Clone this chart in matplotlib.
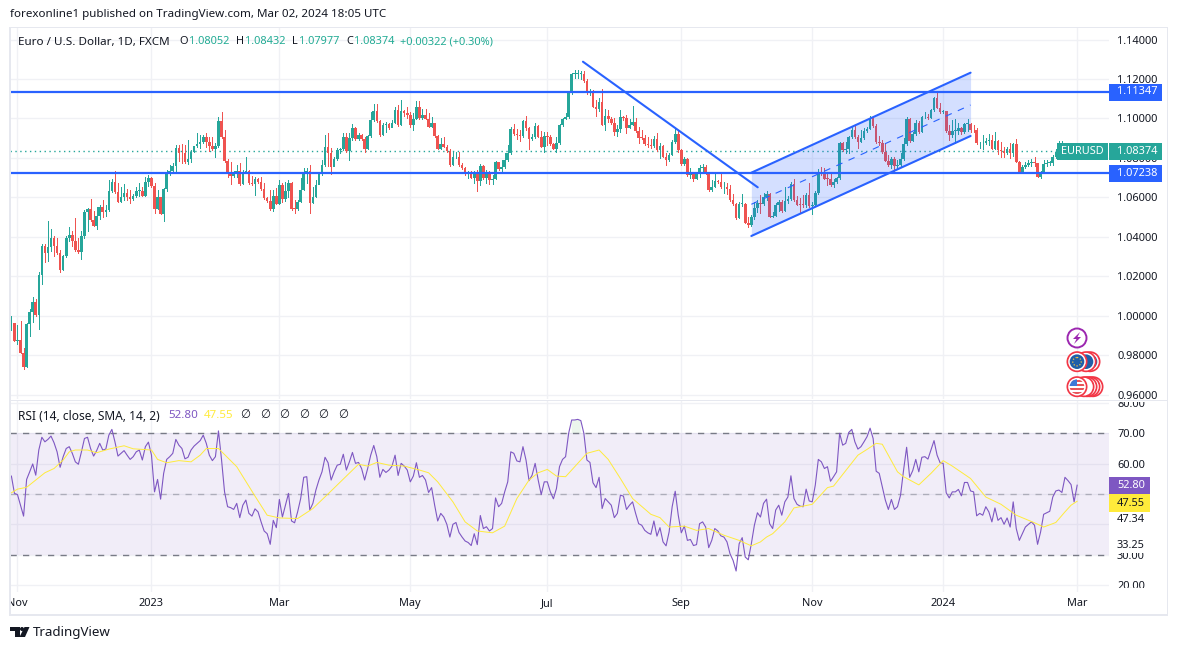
import matplotlib
matplotlib.use("Agg")
import matplotlib.pyplot as plt
from matplotlib.patches import Rectangle, Circle, Polygon

plt.rcParams["font.family"] = ["Noto Sans", "DejaVu Sans"]

# daily closes, one per bar
closes = [
    0.9961, 0.9874, 0.9877, 0.9813, 0.9742, 0.9958, 1.0019, 1.0069, 1.0003, 1.0206,
    1.0354, 1.0320, 1.0347, 1.0394, 1.0354, 1.0320, 1.0234, 1.0303, 1.0394, 1.0409,
    1.0381, 1.0333, 1.0323, 1.0404, 1.0526, 1.0541, 1.0486, 1.0455, 1.0506, 1.0551,
    1.0526, 1.0536, 1.0631, 1.0680, 1.0626, 1.0578, 1.0604, 1.0621, 1.0600, 1.0590,
    1.0607, 1.0632, 1.0634, 1.0609, 1.0680, 1.0697, 1.0658, 1.0540, 1.0602, 1.0516,
    1.0643, 1.0719, 1.0734, 1.0761, 1.0849, 1.0827, 1.0823, 1.0781, 1.0793, 1.0832,
    1.0861, 1.0871, 1.0883, 1.0908, 1.0883, 1.0862, 1.0844, 1.0861, 1.0987, 1.0905,
    1.0786, 1.0719, 1.0709, 1.0731, 1.0736, 1.0666, 1.0725, 1.0732, 1.0671, 1.0666,
    1.0692, 1.0680, 1.0641, 1.0597, 1.0583, 1.0540, 1.0609, 1.0566, 1.0663, 1.0590,
    1.0634, 1.0675, 1.0543, 1.0540, 1.0578, 1.0638, 1.0731, 1.0736, 1.0573, 1.0604,
    1.0663, 1.0722, 1.0764, 1.0857, 1.0823, 1.0756, 1.0793, 1.0840, 1.0845, 1.0905,
    1.0837, 1.0900, 1.0950, 1.0896, 1.0916, 1.0896, 1.0845, 1.0911, 1.0992, 1.1040,
    1.0989, 1.0916, 1.0967, 1.0972, 1.0950, 1.0979, 1.1043, 1.0967, 1.1038, 1.1026,
    1.1017, 1.0967, 1.0997, 1.1056, 1.1000, 1.1017, 1.0997, 1.0958, 1.0979, 1.0911,
    1.0847, 1.0870, 1.0857, 1.0835, 1.0764, 1.0803, 1.0806, 1.0764, 1.0747, 1.0718,
    1.0718, 1.0698, 1.0730, 1.0683, 1.0760, 1.0696, 1.0718, 1.0688, 1.0695, 1.0781,
    1.0742, 1.0752, 1.0789, 1.0826, 1.0945, 1.0921, 1.0916, 1.0911, 1.0989, 1.0950,
    1.0894, 1.0904, 1.0962, 1.0908, 1.0857, 1.0911, 1.0908, 1.0870, 1.0847, 1.0874,
    1.0965, 1.0997, 1.1006, 1.1131, 1.1225, 1.1225, 1.1225, 1.1225, 1.1191, 1.1127,
    1.1136, 1.1060, 1.1046, 1.1085, 1.0968, 1.1014, 1.0995, 1.0979, 1.0931, 1.0948,
    1.1006, 1.1002, 1.0951, 1.0968, 1.0982, 1.0936, 1.0902, 1.0901, 1.0870, 1.0865,
    1.0862, 1.0896, 1.0840, 1.0858, 1.0806, 1.0789, 1.0816, 1.0880, 1.0921, 1.0840,
    1.0769, 1.0794, 1.0713, 1.0718, 1.0691, 1.0718, 1.0747, 1.0752, 1.0725, 1.0637,
    1.0654, 1.0684, 1.0678, 1.0651, 1.0651, 1.0640, 1.0586, 1.0566, 1.0493, 1.0566,
    1.0566, 1.0471, 1.0460, 1.0503, 1.0545, 1.0574, 1.0567, 1.0601, 1.0617, 1.0503,
    1.0506, 1.0562, 1.0575, 1.0533, 1.0582, 1.0594, 1.0668, 1.0587, 1.0563, 1.0562,
    1.0560, 1.0612, 1.0557, 1.0560, 1.0621, 1.0722, 1.0719, 1.0695, 1.0692, 1.0663,
    1.0680, 1.0697, 1.0878, 1.0841, 1.0847, 1.0905, 1.0942, 1.0905, 1.0883, 1.0901,
    1.0935, 1.0949, 1.1001, 1.0962, 1.0881, 1.0874, 1.0832, 1.0787, 1.0763, 1.0797,
    1.0760, 1.0763, 1.0793, 1.0871, 1.0996, 1.0888, 1.0922, 1.0979, 1.0929, 1.1006,
    1.1010, 1.1003, 1.1043, 1.1104, 1.1055, 1.1035, 1.1037, 1.0935, 1.0915, 1.0939,
    1.0939, 1.0952, 1.0932, 1.0971, 1.0971, 1.0942, 1.0940, 1.0874, 1.0874, 1.0878,
    1.0886, 1.0891, 1.0847, 1.0886, 1.0841, 1.0837, 1.0827, 1.0844, 1.0827, 1.0871,
    1.0781, 1.0731, 1.0756, 1.0766, 1.0773, 1.0776, 1.0773, 1.0705, 1.0727, 1.0768,
    1.0773, 1.0775, 1.0803, 1.0829, 1.0850, 1.0860, 1.0820, 1.0850, 1.0845, 1.0805, 1.0837,
]

highs = [
    0.9999, 0.9962, 0.9952, 0.9974, 0.9837, 0.9965, 1.0034, 1.0095, 1.0085, 1.0222,
    1.0364, 1.0364, 1.0481, 1.0440, 1.0404, 1.0394, 1.0332, 1.0308, 1.0404, 1.0450,
    1.0430, 1.0496, 1.0394, 1.0430, 1.0535, 1.0546, 1.0592, 1.0531, 1.0552, 1.0562,
    1.0587, 1.0562, 1.0688, 1.0692, 1.0734, 1.0671, 1.0655, 1.0666, 1.0644, 1.0638,
    1.0617, 1.0655, 1.0671, 1.0655, 1.0705, 1.0714, 1.0705, 1.0675, 1.0638, 1.0604,
    1.0650, 1.0739, 1.0764, 1.0773, 1.0866, 1.0866, 1.0869, 1.0866, 1.0891, 1.0840,
    1.0862, 1.0925, 1.0917, 1.0917, 1.0925, 1.0908, 1.0908, 1.0874, 1.1006, 1.1033,
    1.0942, 1.0793, 1.0778, 1.0736, 1.0764, 1.0773, 1.0739, 1.0803, 1.0739, 1.0709,
    1.0702, 1.0700, 1.0705, 1.0671, 1.0604, 1.0638, 1.0638, 1.0646, 1.0688, 1.0671,
    1.0680, 1.0688, 1.0680, 1.0587, 1.0587, 1.0697, 1.0748, 1.0748, 1.0764, 1.0655,
    1.0688, 1.0731, 1.0790, 1.0915, 1.0925, 1.0849, 1.0807, 1.0849, 1.0849, 1.0925,
    1.0925, 1.0925, 1.0972, 1.0955, 1.0928, 1.0922, 1.0905, 1.0917, 1.1035, 1.1074,
    1.1074, 1.0993, 1.0979, 1.0984, 1.0979, 1.0993, 1.1057, 1.1069, 1.1093, 1.1043,
    1.1060, 1.1034, 1.1026, 1.1088, 1.1088, 1.1046, 1.1046, 1.1026, 1.1006, 1.0979,
    1.0918, 1.0899, 1.0904, 1.0865, 1.0843, 1.0832, 1.0832, 1.0832, 1.0772, 1.0756,
    1.0735, 1.0735, 1.0735, 1.0739, 1.0769, 1.0764, 1.0739, 1.0735, 1.0713, 1.0784,
    1.0781, 1.0789, 1.0823, 1.0865, 1.0955, 1.0972, 1.0945, 1.0941, 1.0992, 1.1012,
    1.0958, 1.0921, 1.0979, 1.0967, 1.0938, 1.0933, 1.0933, 1.0916, 1.0877, 1.0904,
    1.0972, 1.1001, 1.1026, 1.1136, 1.1229, 1.1246, 1.1246, 1.1242, 1.1242, 1.1198,
    1.1148, 1.1144, 1.1093, 1.1102, 1.1148, 1.1046, 1.1043, 1.1009, 1.1001, 1.0967,
    1.1043, 1.1012, 1.1017, 1.0995, 1.1063, 1.1001, 1.0955, 1.0941, 1.0916, 1.0904,
    1.0894, 1.0911, 1.0928, 1.0874, 1.0865, 1.0823, 1.0823, 1.0891, 1.0950, 1.0941,
    1.0843, 1.0803, 1.0798, 1.0747, 1.0730, 1.0725, 1.0764, 1.0769, 1.0762, 1.0730,
    1.0688, 1.0730, 1.0688, 1.0730, 1.0680, 1.0671, 1.0663, 1.0617, 1.0573, 1.0575,
    1.0617, 1.0570, 1.0502, 1.0511, 1.0579, 1.0587, 1.0613, 1.0624, 1.0630, 1.0621,
    1.0528, 1.0574, 1.0587, 1.0587, 1.0655, 1.0607, 1.0680, 1.0692, 1.0607, 1.0596,
    1.0613, 1.0621, 1.0672, 1.0579, 1.0630, 1.0743, 1.0753, 1.0748, 1.0722, 1.0722,
    1.0692, 1.0705, 1.0883, 1.0883, 1.0883, 1.0912, 1.0962, 1.0962, 1.0917, 1.0942,
    1.0951, 1.0959, 1.1013, 1.1013, 1.0973, 1.0912, 1.0891, 1.0875, 1.0815, 1.0804,
    1.0804, 1.0790, 1.0824, 1.0900, 1.1010, 1.1001, 1.0934, 1.0993, 1.0989, 1.1013,
    1.1035, 1.1021, 1.1047, 1.1108, 1.1136, 1.1077, 1.1043, 1.1040, 1.0967, 1.0993,
    1.0996, 1.0976, 1.0959, 1.0976, 1.0996, 1.0979, 1.0967, 1.0951, 1.0883, 1.0917,
    1.0900, 1.0922, 1.0917, 1.0929, 1.0891, 1.0883, 1.0854, 1.0854, 1.0875, 1.0878,
    1.0895, 1.0785, 1.0765, 1.0777, 1.0790, 1.0797, 1.0804, 1.0773, 1.0736, 1.0790,
    1.0790, 1.0782, 1.0815, 1.0844, 1.0888, 1.0885, 1.0865, 1.0865, 1.0865, 1.0855, 1.0843,
]

lows = [
    0.9928, 0.9874, 0.9854, 0.9813, 0.9732, 0.9742, 0.9899, 0.9970, 0.9996, 0.9933,
    1.0163, 1.0274, 1.0279, 1.0330, 1.0305, 1.0313, 1.0224, 1.0234, 1.0300, 1.0381,
    1.0354, 1.0330, 1.0318, 1.0288, 1.0394, 1.0430, 1.0481, 1.0455, 1.0440, 1.0491,
    1.0501, 1.0506, 1.0531, 1.0629, 1.0621, 1.0577, 1.0579, 1.0587, 1.0587, 1.0573,
    1.0587, 1.0604, 1.0607, 1.0607, 1.0607, 1.0658, 1.0655, 1.0519, 1.0540, 1.0516,
    1.0482, 1.0633, 1.0714, 1.0727, 1.0727, 1.0783, 1.0776, 1.0773, 1.0770, 1.0781,
    1.0832, 1.0857, 1.0849, 1.0874, 1.0857, 1.0837, 1.0840, 1.0803, 1.0857, 1.0900,
    1.0781, 1.0705, 1.0668, 1.0705, 1.0705, 1.0663, 1.0666, 1.0722, 1.0666, 1.0661,
    1.0612, 1.0671, 1.0638, 1.0594, 1.0579, 1.0536, 1.0533, 1.0567, 1.0567, 1.0579,
    1.0584, 1.0604, 1.0536, 1.0523, 1.0536, 1.0575, 1.0638, 1.0675, 1.0519, 1.0573,
    1.0604, 1.0675, 1.0714, 1.0761, 1.0759, 1.0719, 1.0764, 1.0790, 1.0827, 1.0840,
    1.0832, 1.0790, 1.0891, 1.0891, 1.0891, 1.0891, 1.0832, 1.0846, 1.0908, 1.0989,
    1.0984, 1.0911, 1.0917, 1.0933, 1.0945, 1.0962, 1.0976, 1.0962, 1.0967, 1.1012,
    1.1001, 1.0955, 1.0941, 1.0997, 1.0997, 1.0997, 1.0995, 1.0955, 1.0955, 1.0904,
    1.0843, 1.0847, 1.0854, 1.0832, 1.0759, 1.0764, 1.0798, 1.0759, 1.0744, 1.0713,
    1.0696, 1.0696, 1.0674, 1.0632, 1.0663, 1.0691, 1.0674, 1.0668, 1.0668, 1.0693,
    1.0739, 1.0735, 1.0747, 1.0786, 1.0820, 1.0918, 1.0894, 1.0887, 1.0908, 1.0941,
    1.0843, 1.0891, 1.0899, 1.0904, 1.0854, 1.0832, 1.0865, 1.0867, 1.0843, 1.0832,
    1.0870, 1.0962, 1.0995, 1.1001, 1.1124, 1.1203, 1.1205, 1.1202, 1.1186, 1.1122,
    1.1119, 1.1056, 1.1012, 1.1039, 1.0967, 1.0941, 1.0984, 1.0972, 1.0916, 1.0911,
    1.0931, 1.0992, 1.0924, 1.0950, 1.0967, 1.0933, 1.0877, 1.0894, 1.0867, 1.0857,
    1.0848, 1.0857, 1.0837, 1.0798, 1.0803, 1.0764, 1.0786, 1.0813, 1.0877, 1.0832,
    1.0764, 1.0764, 1.0708, 1.0696, 1.0685, 1.0691, 1.0705, 1.0722, 1.0718, 1.0634,
    1.0634, 1.0651, 1.0671, 1.0647, 1.0620, 1.0617, 1.0583, 1.0563, 1.0489, 1.0494,
    1.0558, 1.0468, 1.0448, 1.0457, 1.0489, 1.0528, 1.0523, 1.0562, 1.0587, 1.0499,
    1.0499, 1.0506, 1.0533, 1.0526, 1.0530, 1.0570, 1.0587, 1.0584, 1.0560, 1.0520,
    1.0553, 1.0553, 1.0553, 1.0516, 1.0560, 1.0618, 1.0714, 1.0692, 1.0663, 1.0658,
    1.0655, 1.0672, 1.0695, 1.0837, 1.0827, 1.0827, 1.0900, 1.0900, 1.0849, 1.0883,
    1.0898, 1.0932, 1.0945, 1.0959, 1.0878, 1.0868, 1.0827, 1.0783, 1.0760, 1.0748,
    1.0726, 1.0748, 1.0756, 1.0790, 1.0864, 1.0883, 1.0885, 1.0915, 1.0925, 1.0929,
    1.1001, 1.0999, 1.1001, 1.1037, 1.1052, 1.1030, 1.1030, 1.0932, 1.0891, 1.0908,
    1.0874, 1.0922, 1.0922, 1.0925, 1.0937, 1.0934, 1.0932, 1.0871, 1.0849, 1.0844,
    1.0871, 1.0866, 1.0844, 1.0844, 1.0820, 1.0807, 1.0807, 1.0820, 1.0798, 1.0810,
    1.0780, 1.0722, 1.0726, 1.0748, 1.0760, 1.0760, 1.0760, 1.0702, 1.0697, 1.0722,
    1.0761, 1.0763, 1.0766, 1.0799, 1.0825, 1.0840, 1.0795, 1.0815, 1.0825, 1.0795, 1.0798,
]

rsi = [
    55.9, 50.2, 49.8, 46.3, 42.7, 54.8, 57.3, 59.9, 56.2, 64.5,
    68.7, 67.2, 68.0, 69.1, 66.9, 63.9, 58.8, 62.3, 65.0, 65.6,
    63.4, 60.6, 59.8, 63.9, 68.3, 68.7, 65.0, 62.5, 64.3, 66.7,
    64.5, 64.8, 69.4, 71.3, 67.2, 62.5, 63.4, 64.3, 62.8, 61.4,
    62.3, 63.9, 64.5, 61.2, 65.6, 67.1, 62.8, 50.7, 54.8, 48.3,
    56.8, 61.4, 62.3, 63.4, 68.0, 66.1, 65.0, 61.6, 62.1, 64.5,
    65.8, 66.7, 67.6, 69.4, 66.7, 62.8, 61.0, 62.3, 70.8, 61.4,
    50.7, 45.8, 45.5, 44.9, 46.9, 42.2, 46.3, 48.0, 43.6, 42.7,
    45.1, 44.1, 40.8, 37.8, 36.9, 33.4, 41.3, 38.9, 48.2, 42.4,
    46.3, 50.2, 41.1, 40.5, 44.1, 48.5, 55.5, 55.7, 44.7, 46.9,
    51.3, 54.6, 57.3, 62.1, 60.3, 54.6, 57.3, 59.5, 59.8, 63.1,
    57.9, 60.6, 63.7, 60.1, 60.4, 58.4, 54.6, 58.4, 62.8, 66.0,
    62.3, 55.5, 58.1, 57.1, 57.9, 59.2, 62.8, 56.1, 60.1, 59.2,
    57.9, 54.0, 55.9, 60.3, 55.5, 56.1, 54.6, 50.5, 52.1, 46.3,
    41.1, 43.6, 42.4, 40.0, 35.8, 40.0, 40.6, 37.3, 35.8, 34.5,
    34.0, 33.0, 36.9, 33.3, 42.9, 38.6, 39.2, 37.8, 38.6, 48.7,
    45.8, 46.9, 50.7, 54.0, 63.9, 63.4, 60.9, 60.6, 65.6, 61.2,
    54.4, 56.2, 60.1, 54.6, 49.8, 54.0, 54.0, 50.7, 48.4, 51.8,
    59.0, 61.4, 62.3, 70.0, 74.4, 74.4, 74.6, 74.2, 70.0, 61.2,
    60.4, 53.7, 52.1, 55.5, 45.2, 48.5, 47.4, 46.3, 42.2, 43.6,
    49.6, 49.3, 44.9, 46.3, 47.4, 43.6, 40.2, 39.7, 38.0, 37.2,
    36.7, 41.1, 36.1, 38.9, 34.2, 32.9, 37.5, 45.8, 50.9, 43.0,
    37.2, 39.4, 34.7, 35.0, 33.0, 33.3, 40.2, 40.8, 39.1, 32.3,
    34.7, 38.6, 37.8, 36.2, 35.8, 34.2, 30.3, 28.1, 24.6, 33.6,
    35.6, 29.2, 28.3, 33.6, 39.7, 43.8, 42.4, 46.9, 48.3, 40.2,
    38.6, 44.7, 46.3, 43.0, 47.4, 49.0, 56.0, 48.5, 46.6, 46.0,
    45.8, 51.6, 47.7, 47.4, 52.9, 61.4, 60.6, 58.4, 59.0, 54.2,
    55.7, 57.3, 70.0, 66.1, 66.7, 70.3, 71.3, 67.2, 64.8, 65.6,
    67.2, 68.9, 71.7, 68.3, 57.5, 56.8, 52.4, 48.0, 44.9, 48.2,
    44.9, 45.8, 49.6, 57.9, 65.4, 55.5, 57.7, 61.4, 57.3, 62.1,
    62.3, 61.5, 64.5, 67.6, 62.8, 60.3, 60.1, 50.4, 48.7, 50.7,
    50.7, 51.5, 49.4, 53.8, 53.8, 51.0, 50.7, 42.8, 43.6, 43.0,
    45.8, 44.1, 40.8, 45.4, 41.3, 42.2, 40.0, 42.1, 39.1, 47.4,
    38.6, 34.7, 36.9, 39.1, 40.0, 40.8, 39.7, 33.4, 37.5, 43.3,
    43.8, 44.3, 49.0, 51.0, 51.3, 50.5, 55.5, 54.4, 53.1, 47.4, 52.9,
]

# yellow RSI average, read at the bars where it bends
sma_bars = [
    0, 2, 5, 8, 11, 14, 17, 19, 21, 25, 28, 32, 37, 40, 46, 48, 51, 55, 59, 62, 64, 68,
    74, 80, 84, 88, 94, 99, 105, 110, 114, 117, 120, 124, 129, 134, 137, 140, 145, 149,
    153, 158, 162, 166, 170, 173, 176, 179, 182, 186, 189, 193, 196, 200, 204, 210, 213,
    216, 221, 225, 229, 234, 239, 243, 246, 248, 250, 254, 257, 263, 268, 270, 278, 281,
    284, 286, 291, 293, 298, 302, 306, 309, 315, 320, 325, 330, 336, 339, 343, 346, 348, 350,
]
sma_values = [
    50.4, 51.6, 52.2, 54.6, 57.0, 58.4, 61.2, 63.9, 64.5, 64.5, 63.6, 64.8, 65.9, 64.9, 64.5,
    61.4, 60.3, 61.0, 60.6, 62.8, 65.0, 65.0, 59.0, 49.3, 43.0, 42.1, 41.9, 45.2, 51.0, 55.9,
    59.8, 59.2, 60.4, 59.5, 59.2, 57.9, 57.0, 54.0, 47.4, 40.8, 37.8, 37.2, 39.4, 48.5, 54.6,
    57.0, 58.1, 55.9, 55.7, 60.1, 63.4, 64.5, 61.4, 55.1, 48.5, 43.3, 42.2, 39.1, 39.4, 38.0,
    38.6, 36.4, 34.7, 32.9, 34.2, 35.8, 36.9, 40.8, 45.4, 46.6, 52.1, 52.6, 62.8, 64.7, 66.7,
    66.4, 57.3, 55.7, 53.0, 56.8, 61.0, 59.2, 55.1, 49.0, 46.6, 43.0, 40.5, 39.1, 40.6, 44.1,
    46.3, 47.6,
]

level_high = 1.11347
level_low = 1.07238
last_close = 1.08374

# drawings: (bar, price) pairs
fall_bars = [187.7, 245.1]
fall_prices = [1.12880, 1.06511]
channel_bars = [243.0, 315.0]
channel_top = [1.07252, 1.12323]
channel_mid = [1.05649, 1.10685]
channel_bottom = [1.04042, 1.09113]

price_ticks = [0.96, 0.98, 1.00, 1.02, 1.04, 1.06, 1.08, 1.10, 1.12, 1.14]
rsi_ticks = [20, 30, 60, 70, 80]
rsi_grid = [40, 50]
month_bars = [2, 46, 88, 131, 176, 220, 263, 306, 350]
month_labels = ["Nov", "2023", "Mar", "May", "Jul", "Sep", "Nov", "2024", "Mar"]

UP = "#26a69a"
DOWN = "#ef5350"
BLUE = "#2962ff"
PURPLE = "#7e57c2"
YELLOW = "#ffeb3b"
GRID = "#f0f1f5"
TEXT = "#131722"
FS = 7.9

W, H = 1177, 650
fig = plt.figure(figsize=(W / 100, H / 100), dpi=100)


def pane(left, top, right, bottom):
    ax = fig.add_axes([left / W, 1 - bottom / H, (right - left) / W, (bottom - top) / H])
    for s in ax.spines.values():
        s.set_visible(False)
    ax.yaxis.tick_right()
    ax.tick_params(length=0, pad=5.8, labelsize=FS, colors=TEXT)
    ax.set_xlim(-0.46, 360.46)
    ax.set_xticks(month_bars)
    ax.grid(True, color=GRID, lw=1)
    ax.set_axisbelow(True)
    return ax


# price pane
ax = pane(10, 28, 1109, 399)
ax.set_ylim(0.95776, 1.14589)
ax.set_yticks(price_ticks)
ax.set_yticklabels([f"{p:.5f}" for p in price_ticks])
ax.set_xticklabels([])

bars = list(range(len(closes)))
opens = [closes[0]] + closes[:-1]
colors = [UP if c >= o else DOWN for o, c in zip(opens, closes)]
bottoms = [min(o, c) for o, c in zip(opens, closes)]
heights = [max(abs(c - o), 0.0004) for o, c in zip(opens, closes)]

ax.vlines(bars, lows, highs, colors=colors, lw=0.72, zorder=3, antialiased=False)
ax.bar(bars, heights, bottom=bottoms, width=0.85, color=colors, lw=0, zorder=4, antialiased=False)

ax.axhline(last_close, color=UP, lw=1, ls=(0, (1, 2.5)), zorder=2)
ax.fill_between(channel_bars, channel_bottom, channel_top, color=BLUE, alpha=0.2, lw=0, zorder=5)
ax.plot(channel_bars, channel_top, color=BLUE, lw=1.5, zorder=6, solid_capstyle="round")
ax.plot(channel_bars, channel_bottom, color=BLUE, lw=1.5, zorder=6, solid_capstyle="round")
ax.plot(channel_bars, channel_mid, color=BLUE, lw=0.8, ls=(0, (6, 6)), zorder=6)
ax.plot(fall_bars, fall_prices, color=BLUE, lw=1.5, zorder=6, solid_capstyle="round")
ax.axhline(level_high, color=BLUE, lw=1.6, zorder=6)
ax.axhline(level_low, color=BLUE, lw=1.6, zorder=6)

# RSI pane
rax = pane(10, 401, 1109, 592)
rax.set_ylim(17.68, 80.66)
rax.set_yticks(rsi_ticks)
rax.set_yticklabels([f"{v:.2f}" for v in rsi_ticks])
rax.set_xticklabels(month_labels)
rax.tick_params(axis="x", pad=4.2)
for lbl in rax.get_xticklabels():
    if lbl.get_text() in ("2023", "2024"):
        lbl.set_fontweight("bold")
for v in rsi_grid:
    rax.axhline(v, color=GRID, lw=1, zorder=0.5)

rax.axhspan(30, 70, color=PURPLE, alpha=0.1, lw=0, zorder=1)
rax.fill_between(bars, 70, rsi, where=[v > 70 for v in rsi], color="#4caf50", alpha=0.1, lw=0, zorder=1)
rax.axhline(70, color="#787b86", lw=1, ls=(0, (4.5, 4.5)), zorder=2)
rax.axhline(50, color="#787b86", lw=1, ls=(0, (4.5, 4.5)), alpha=0.5, zorder=2)
rax.axhline(30, color="#787b86", lw=1, ls=(0, (4.5, 4.5)), zorder=2)
rax.plot(bars, rsi, color=PURPLE, lw=0.8, zorder=3)
rax.plot(sma_bars, sma_values, color=YELLOW, lw=0.7, zorder=4)

# overlay in pixels for the frame, tags and header text
top = fig.add_axes([0, 0, 1, 1], zorder=10)
top.set_xlim(0, W)
top.set_ylim(H, 0)
top.axis("off")


def box(x0, y0, x1, y1, color, z=1):
    top.add_patch(Rectangle((x0, y0), x1 - x0, y1 - y0, fc=color, ec="none", zorder=z))


def label(x, y, s, color=TEXT, size=FS, **kw):
    return top.text(x, y, s, color=color, fontsize=size, va="center", zorder=5, **kw)


# hide the parts of axis labels cut off by the pane edges
box(0, 592, 9.5, 612, "white")
box(1110, 399, 1165, 401.8, "white")
box(1110, 587.5, 1165, 597, "white")

# frame
for rect in [(9, 26.5, 1168, 28), (9, 613.5, 1168, 615.5), (9, 26.5, 10.5, 615.5),
             (1166.5, 26.5, 1168, 615.5), (9, 399.5, 1168, 401)]:
    box(*rect, "#e6e8ef", z=2)

# price tags
box(1109, 84, 1162, 100.7, BLUE, z=3)
label(1117.5, 92, "1.11347", "white")
box(1109, 165, 1162, 182, BLUE, z=3)
label(1117.5, 173.3, "1.07238", "white")
box(1057, 142.7, 1108, 160, UP, z=3)
label(1061, 151.2, "EURUSD", "white")
box(1109, 142.7, 1162, 160, UP, z=3)
label(1117.5, 151.2, "1.08374", "white")

box(1109, 476.7, 1150, 494, PURPLE, z=3)
label(1117, 485.2, "52.80", "white")
box(1109, 494, 1150, 512, YELLOW, z=3)
label(1117, 503, "47.55", TEXT)
label(1117, 520, "47.34")
box(1114, 539.5, 1150, 552.5, "white", z=3)
label(1117, 545.5, "33.25")

# header and legends
label(10, 14.5, "forexonline1 published on TradingView.com, Mar 02, 2024 18:05 UTC", size=8.35)
label(18, 42, "Euro / U.S. Dollar, 1D, FXCM", size=8.4)
TEAL = "#22ab94"
for x, s, c in [(179, "O", TEXT), (189, "1.08052", TEAL), (236, "H", TEXT), (245, "1.08432", TEAL),
                (292, "L", TEXT), (299, "1.07977", TEAL), (346, "C", TEXT), (354, "1.08374", TEAL),
                (400, "+0.00322 (+0.30%)", TEAL)]:
    label(x, 42, s, c, size=7.9)
label(18, 416, "RSI (14, close, SMA, 14, 2)", size=8.6)
label(168, 416, "52.80", PURPLE, size=8.3)
label(204, 416, "47.55", YELLOW, size=8.3)
for x in [245, 265, 284, 304, 323, 343]:
    label(x, 416, "\u2205", "#131722", size=8.3, ha="center")

# TradingView logo
box(10, 627, 19.5, 631, TEXT)
box(15, 627, 19.5, 637, TEXT)
top.add_patch(Circle((22, 629), 2, fc=TEXT, ec="none", zorder=3))
top.add_patch(Polygon([(24.5, 627), (29.5, 627), (25, 637), (19.5, 637)], fc=TEXT, ec="none", zorder=3))
label(33, 632.5, "TradingView", size=9.6)

# lightning badge
top.add_patch(Circle((1077, 338), 9.5, fc="white", ec="#9c27b0", lw=1.4, zorder=3))
top.add_patch(Polygon([(1080, 332), (1073, 339), (1076.5, 339), (1074, 344), (1081, 337), (1077.5, 337)],
                      fc="#9c27b0", ec="none", zorder=4))

# calendar event badges
for x in [1090, 1086, 1077]:
    top.add_patch(Circle((x, 361.7), 10.5, fc="#f23645", ec="none", zorder=3))
    top.add_patch(Circle((x, 361.7), 8.8, fc="white", ec="none", zorder=3))
    top.add_patch(Circle((x, 361.7), 7.3, fc="#1f5fa8", ec="none", zorder=3))
top.add_patch(Circle((1077, 361.7), 4.2, fc="none", ec="#f5c242", lw=0.9, ls=(0, (1, 1.5)), zorder=4))

for x in [1093, 1090, 1087, 1084, 1077]:
    top.add_patch(Circle((x, 386.7), 10.5, fc="#f23645", ec="none", zorder=3))
    top.add_patch(Circle((x, 386.7), 8.8, fc="white", ec="none", zorder=3))
clip_disc = Circle((1077, 386.7), 7.3, transform=top.transData)
stripes = [top.add_patch(Rectangle((1069, y), 16, 2, fc="#e8545a", ec="none", zorder=4))
           for y in [380, 384, 388, 392]]
canton = top.add_patch(Rectangle((1069, 379), 8, 7, fc="#3d78d8", ec="none", zorder=5))
for p in stripes + [canton]:
    p.set_clip_path(clip_disc)

fig.savefig("out.png", dpi=100, facecolor="white")
